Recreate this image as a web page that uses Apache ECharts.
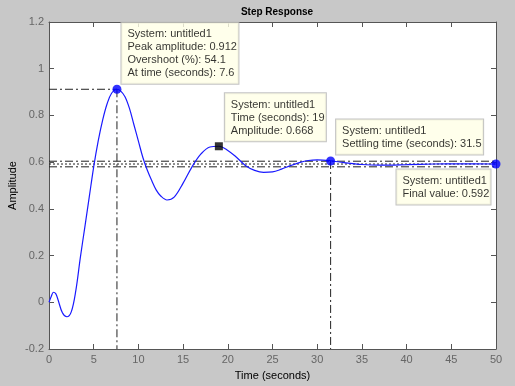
<!DOCTYPE html>
<html>
<head>
<meta charset="utf-8">
<script src="https://cdn.jsdelivr.net/npm/echarts@6/dist/echarts.min.js"></script>
<style>html,body{margin:0;padding:0;background:#c8c8c8;}#c{width:515px;height:386px;}</style>
</head>
<body>
<div id="c"></div>
<script>
// Step response samples (time, amplitude)
var times = [0,0.25,0.5,0.75,1,1.5,2,2.5,3,3.5,4,4.5,5,5.5,6,6.5,7,7.6,8,8.5,9,9.5,10,10.5,11,11.5,12,12.5,13.2,14,15,16,17,18,19,20,21,22,23,24,25,26,27,28,29,30,31.5,33,35,37,40,43,46,50];
var amps  = [0,0.025,0.043,0.037,0.012,-0.045,-0.062,-0.04,0.05,0.19,0.32,0.45,0.58,0.69,0.78,0.85,0.895,0.912,0.905,0.88,0.83,0.76,0.69,0.62,0.565,0.52,0.48,0.455,0.438,0.45,0.51,0.58,0.635,0.665,0.668,0.65,0.62,0.585,0.565,0.556,0.558,0.57,0.585,0.598,0.607,0.61,0.606,0.598,0.59,0.587,0.589,0.592,0.593,0.592];

// Data tips
var peakTime = 7.6, peakAmp = 0.912, overshoot = 54.1;
var probeTime = 19, probeAmp = 0.668;
var settleTime = 31.5, settleAmp = 0.605;
var finalTime = 50, finalValue = 0.592;
var settleBand = [0.604, 0.580];

var xTicks = {min: 0, max: 50, interval: 5};
var yTicks = {min: -0.2, max: 1.2, interval: 0.2};

var FONT = 'Liberation Sans, Arial, sans-serif';
var curve = times.map(function (t, i) { return [t, amps[i]]; });

var dashDot = {color: '#222', width: 1, type: [8, 3, 2, 3]};
function seg(p, style) {
  return {type: 'line', data: p, symbol: 'none', silent: true, lineStyle: style, animation: false, z: 1};
}
function tip(point, symbol, size, color, lines, pos, w) {
  return {
    type: 'scatter', data: [point], symbol: symbol, symbolSize: size,
    itemStyle: {color: color}, animation: false, z: 5,
    label: {
      show: true, position: pos, align: 'left', verticalAlign: 'top',
      formatter: lines.join('\n'), color: '#000', fontSize: 11, fontFamily: FONT,
      lineHeight: 13, padding: [5, 5, 4, 6], width: w,
      backgroundColor: '#ffffe6', borderColor: '#b4b4b4', borderWidth: 1
    }
  };
}

function axisStyle(showLabel, extra) {
  var a = {
    axisLine: {show: true, onZero: false, lineStyle: {color: '#555', width: 1}},
    axisTick: {show: true, inside: true, length: 5, lineStyle: {color: '#555'}},
    splitLine: {show: false},
    axisLabel: {show: showLabel, color: '#666', fontSize: 11, fontFamily: FONT, margin: 5}
  };
  return Object.assign(a, extra);
}

var option = {
  backgroundColor: '#c8c8c8',
  animation: false,
  title: {text: 'Step Response', left: 272, top: 2, textAlign: 'center',
    textStyle: {fontSize: 10, fontWeight: 'bold', color: '#000', fontFamily: FONT}},
  grid: {left: 49, right: 19, top: 22, bottom: 37, show: true, backgroundColor: '#fff', borderWidth: 0,
    outerBoundsMode: 'none', containLabel: false},
  xAxis: [
    axisStyle(true, {type: 'value', min: xTicks.min, max: xTicks.max, interval: xTicks.interval,
      name: 'Time (seconds)', nameLocation: 'middle', nameGap: 21, nameMoveOverlap: false,
      nameTextStyle: {color: '#000', fontSize: 11, fontFamily: FONT}}),
    axisStyle(false, {type: 'value', position: 'top', min: xTicks.min, max: xTicks.max, interval: xTicks.interval})
  ],
  yAxis: [
    axisStyle(true, {type: 'value', min: yTicks.min, max: yTicks.max, interval: yTicks.interval,
      name: 'Amplitude', nameLocation: 'middle', nameGap: 31, nameMoveOverlap: false,
      nameTextStyle: {color: '#000', fontSize: 11, fontFamily: FONT}}),
    axisStyle(false, {type: 'value', position: 'right', min: yTicks.min, max: yTicks.max, interval: yTicks.interval})
  ],
  series: [
    seg([[xTicks.min, settleBand[0]], [xTicks.max, settleBand[0]]], dashDot),
    seg([[xTicks.min, finalValue], [xTicks.max, finalValue]], {color: '#222', width: 1, type: [2, 2]}),
    seg([[xTicks.min, settleBand[1]], [xTicks.max, settleBand[1]]], dashDot),
    seg([[xTicks.min, peakAmp], [peakTime, peakAmp]], dashDot),
    seg([[peakTime, peakAmp], [peakTime, yTicks.min]], dashDot),
    seg([[settleTime, settleAmp], [settleTime, yTicks.min]], dashDot),
    {type: 'line', data: curve, smooth: 0.35, symbol: 'none', lineStyle: {color: '#1a1aff', width: 1.2}, z: 3, animation: false},
    tip([peakTime, peakAmp], 'circle', 9, '#0000ff',
      ['System: untitled1', 'Peak amplitude: ' + peakAmp, 'Overshoot (%): ' + overshoot, 'At time (seconds): ' + peakTime], [9, -62], 106),
    tip([probeTime, probeAmp], 'rect', 8, '#000',
      ['System: untitled1', 'Time (seconds): ' + probeTime, 'Amplitude: ' + probeAmp], [10, -49], 90),
    tip([settleTime, settleAmp], 'circle', 9, '#0000ff',
      ['System: untitled1', 'Settling time (seconds): ' + settleTime], [10, -37], 136),
    tip([finalTime, finalValue], 'circle', 9, '#0000ff',
      ['System: untitled1', 'Final value: ' + finalValue], [-95, 10], 83)
  ]
};
echarts.init(document.getElementById('c')).setOption(option);
</script>
</body>
</html>
